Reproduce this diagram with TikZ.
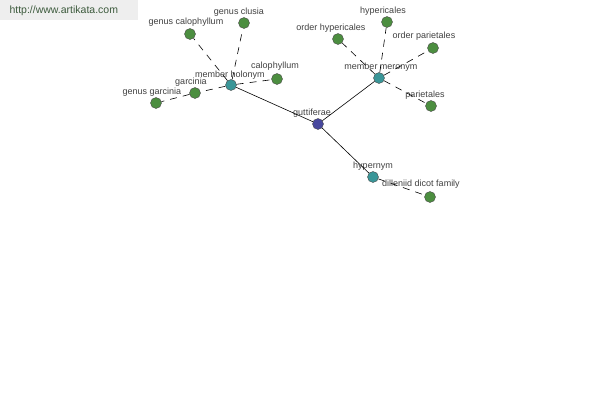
\documentclass[tikz,border=0pt]{standalone}
\usepackage{fontspec}
\setmainfont{Liberation Sans}
\usetikzlibrary{positioning}
\definecolor{leafgreen}{RGB}{76,142,64}
\definecolor{relteal}{RGB}{58,150,152}
\definecolor{rootblue}{RGB}{72,72,158}
\definecolor{bannergray}{RGB}{238,238,238}
\definecolor{bannertext}{RGB}{60,90,60}
\tikzset{
    % Word dots
    leaf/.style={
        circle, draw=black!70, fill=leafgreen,
        minimum size=11pt, inner sep=0pt
    },
    relation/.style={
        circle, draw=black!70, fill=relteal,
        minimum size=11pt, inner sep=0pt
    },
    root/.style={
        circle, draw=black!70, fill=rootblue,
        minimum size=11pt, inner sep=0pt
    },
    % Text above dots
    word/.style={
        font=\fontsize{9}{10}\selectfont, text=black!75, inner sep=1pt
    },
    % Connectors
    mainlink/.style={draw=black, line width=0.6pt},
    sublink/.style={draw=black, line width=0.6pt, dash pattern=on 7pt off 6pt}
}
\begin{document}
\begin{tikzpicture}[x=1pt,y=-1pt]
\useasboundingbox (0,0) rectangle (600,400);

% Banner
\node[fill=bannergray, minimum width=138pt, minimum height=20pt, inner sep=0pt,
      anchor=north west] (banner) at (0,0) {};
\node[anchor=west, font=\fontsize{10.5}{12}\selectfont, text=bannertext] (url) at (6,11) {http://www.artikata.com};

% Center word
\node[root] (guttiferae) at (318,124) {};
\node[word] (guttiferaet) at (312,113) {guttiferae};

% Relation dots
\node[relation] (holonym) at (231,85) {};
\node[word] (holonymt) at (230,75) {member holonym};
\node[relation] (meronym) at (379,78) {};
\node[word] (meronymt) at (381,67) {member meronym};
\node[relation] (hypernym) at (373,177) {};
\node[word] (hypernymt) at (373,166) {hypernym};

% Holonym leaves
\node[leaf] (gcalophyllum) at (190,34) {};
\node[word] (gcalophyllumt) at (186,22) {genus calophyllum};
\node[leaf] (gclusia) at (244,23) {};
\node[word] (gclusiat) at (239,12) {genus clusia};
\node[leaf] (calophyllum) at (277,79) {};
\node[word] (calophyllumt) at (275,66) {calophyllum};
\node[leaf] (garcinia) at (195,93) {};
\node[word] (garciniat) at (191,82) {garcinia};
\node[leaf] (ggarcinia) at (156,103) {};
\node[word] (ggarciniat) at (152,92) {genus garcinia};

% Meronym leaves
\node[leaf] (ohypericales) at (338,39) {};
\node[word] (ohypericalest) at (331,28) {order hypericales};
\node[leaf] (hypericales) at (387,22) {};
\node[word] (hypericalest) at (383,11) {hypericales};
\node[leaf] (oparietales) at (433,48) {};
\node[word] (oparietalest) at (424,36) {order parietales};
\node[leaf] (parietales) at (431,106) {};
\node[word] (parietalest) at (425,95) {parietales};

% Hypernym leaf
\node[leaf] (dilleniid) at (430,197) {};
\node[word] (dilleniidt) at (421,184) {dilleniid dicot family};

% Links
\draw[mainlink] (guttiferae) -- (holonym);
\draw[mainlink] (guttiferae) -- (meronym);
\draw[mainlink] (guttiferae) -- (hypernym);

\draw[sublink] (holonym) -- (gcalophyllum);
\draw[sublink] (holonym) -- (gclusia);
\draw[sublink] (holonym) -- (calophyllum);
\draw[sublink] (holonym) -- (garcinia);
\draw[sublink] (garcinia) -- (ggarcinia);

\draw[sublink] (meronym) -- (ohypericales);
\draw[sublink] (meronym) -- (hypericales);
\draw[sublink] (meronym) -- (oparietales);
\draw[sublink] (meronym) -- (parietales);

\draw[sublink] (hypernym) -- (dilleniid);

\end{tikzpicture}
\end{document}
